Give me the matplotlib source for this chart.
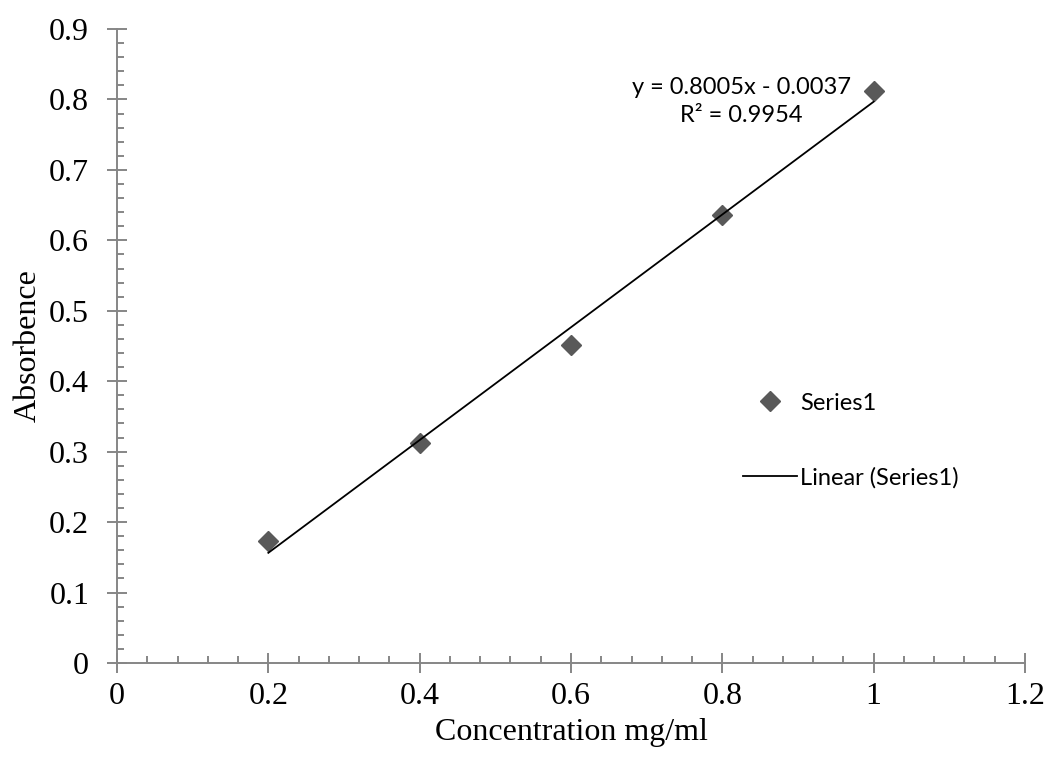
import matplotlib
matplotlib.use('Agg')
import matplotlib.pyplot as plt
from matplotlib.ticker import MultipleLocator
import numpy as np

# data
conc = [0.2, 0.4, 0.6, 0.8, 1.0]
absorb = [0.173, 0.3125, 0.452, 0.636, 0.8125]
slope = 0.8005
intercept = -0.0037
r2 = 0.9954

xticks = [0, 0.2, 0.4, 0.6, 0.8, 1, 1.2]
xtick_labels = ['0', '0.2', '0.4', '0.6', '0.8', '1', '1.2']
yticks = [0, 0.1, 0.2, 0.3, 0.4, 0.5, 0.6, 0.7, 0.8, 0.9]
ytick_labels = ['0', '0.1', '0.2', '0.3', '0.4', '0.5', '0.6', '0.7', '0.8', '0.9']

serif = 'Liberation Serif'
sans = 'Lato'
axis_grey = '#868686'

fig = plt.figure(figsize=(10.49, 7.65), dpi=100)
# axes box in pixels: x 117..1025, y 29..663
ax = fig.add_axes([117 / 1049, 1 - 663 / 765, 908 / 1049, 634 / 765])

ax.plot(conc, absorb, linestyle='none', marker='D', markersize=10,
        color='#595959', label='Series1')
fit_x = np.array([conc[0], conc[-1]])
ax.plot(fit_x, slope * fit_x + intercept, color='black', lw=1.3,
        label='Linear (Series1)')

ax.set_xlim(0, 1.2)
ax.set_ylim(0, 0.9)
ax.set_xticks(xticks)
ax.set_xticklabels(xtick_labels)
ax.set_yticks(yticks)
ax.set_yticklabels(ytick_labels)
ax.xaxis.set_minor_locator(MultipleLocator(0.04))
ax.yaxis.set_minor_locator(MultipleLocator(0.02))

for side in ['top', 'right']:
    ax.spines[side].set_visible(False)
for side in ['left', 'bottom']:
    ax.spines[side].set_color(axis_grey)
    ax.spines[side].set_linewidth(1.4)

ax.tick_params(which='major', direction='inout', length=14, width=1.4,
               color=axis_grey, labelsize=23)
ax.tick_params(axis='x', which='major', pad=7)
ax.tick_params(axis='y', which='major', pad=13)
ax.tick_params(which='minor', direction='in', length=5, width=1.4,
               color=axis_grey)
for lab in ax.get_xticklabels() + ax.get_yticklabels():
    lab.set_fontfamily(serif)

ax.set_xlabel('Concentration mg/ml', fontsize=23, fontfamily=serif, labelpad=5)
ax.set_ylabel('Absorbence', fontsize=23, fontfamily=serif, labelpad=5)

ax.text(0.825, 0.797,
        'y = {:.4f}x - {:.4f}\nR² = {:.4f}'.format(slope, -intercept, r2),
        fontsize=17, fontfamily=sans, ha='center', va='center',
        linespacing=1.45)

ax.legend(loc='center left', bbox_to_anchor=(0.689, 0.351), frameon=False,
          prop={'family': sans, 'size': 17}, handlelength=2.3,
          handletextpad=0.13, labelspacing=2.25, borderpad=0, borderaxespad=0)

fig.savefig('out.png', dpi=100)
